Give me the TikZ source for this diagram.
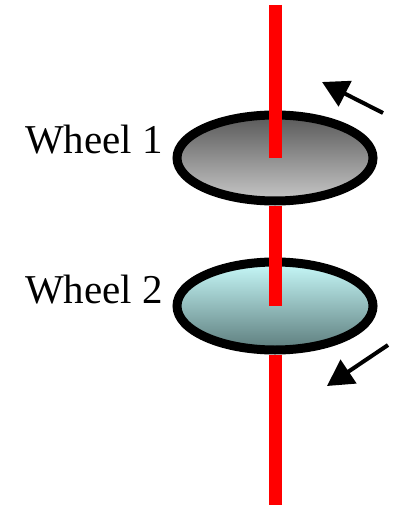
\documentclass[tikz,border=0pt]{standalone}
\usepackage{fontspec}
\setmainfont{Liberation Serif}
\usetikzlibrary{shapes.geometric,arrows.meta}
\definecolor{axisred}{RGB}{255,0,0}
\definecolor{grayA}{RGB}{88,88,88}
\definecolor{grayB}{RGB}{200,200,200}
\definecolor{cyanA}{RGB}{200,250,250}
\definecolor{cyanB}{RGB}{92,124,124}
\tikzset{
  wheel/.style={ellipse, draw=black, line width=9pt, inner sep=0pt,
    minimum width=196pt, minimum height=86pt},
  axle/.style={axisred, line width=13pt},
  spin/.style={line width=4pt, -{Triangle[length=26pt,width=28pt]}},
  wlabel/.style={anchor=base west, inner sep=0pt, font=\fontsize{41}{41}\selectfont}
}
\begin{document}
\begin{tikzpicture}[x=1pt, y=-1pt]
    \useasboundingbox (0,0) rectangle (403,508);
    
    % the two wheels
    \node[wheel, top color=grayA, bottom color=grayB] (w1) at (275,158) {};
    \node[wheel, top color=cyanA, bottom color=cyanB, minimum height=88pt] (w2) at (275,306) {};
    
    % axle, hidden in the lower half of each wheel
    \coordinate (top) at (275,5);
    \coordinate (bot) at (275,505);
    \draw[axle] (top) -- (w1.center);
    \draw[axle] (w1.south) -- (w2.center);
    \draw[axle] (w2.south) -- (bot);
    
    % labels
    \node[wlabel] (l1) at (25,153) {Wheel 1};
    \node[wlabel] (l2) at (25,303) {Wheel 2};
    
    % directions of rotation
    \coordinate (a1s) at (383,113);
    \coordinate (a1e) at (322,82);
    \coordinate (a2s) at (388,345);
    \coordinate (a2e) at (327,386);
    \draw[spin] (a1s) -- (a1e);
    \draw[spin] (a2s) -- (a2e);
  \end{tikzpicture}
\end{document}
